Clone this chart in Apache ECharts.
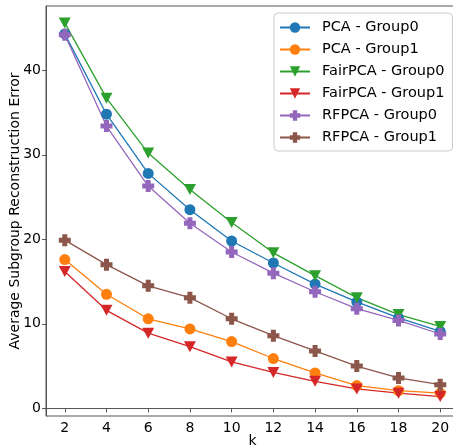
<!DOCTYPE html>
<html>
<head>
<meta charset="utf-8">
<script src="https://cdn.jsdelivr.net/npm/echarts@6/dist/echarts.min.js"></script>
<style>
  html, body { margin: 0; padding: 0; background: #fff; }
  #chart { width: 453px; height: 448px; }
</style>
</head>
<body>
<div id="chart"></div>
<script>
const kValues = [2, 4, 6, 8, 10, 12, 14, 16, 18, 20]
const yTicks = [0, 10, 20, 30, 40]

const pcaGroup0 = [44.3, 34.8, 27.8, 23.5, 19.8, 17.2, 14.7, 12.6, 10.7, 9.1]
const pcaGroup1 = [17.6, 13.5, 10.6, 9.4, 7.9, 5.9, 4.2, 2.7, 2.1, 1.8]
const fairGroup0 = [45.6, 36.7, 30.2, 25.9, 22.0, 18.4, 15.7, 13.1, 11.1, 9.7]
const fairGroup1 = [16.2, 11.6, 8.9, 7.3, 5.5, 4.25, 3.2, 2.3, 1.8, 1.4]
const rfGroup0 = [44.2, 33.4, 26.3, 21.9, 18.5, 16.0, 13.8, 11.8, 10.4, 8.8]
const rfGroup1 = [19.9, 17.0, 14.5, 13.1, 10.6, 8.6, 6.8, 5.0, 3.6, 2.8]

const downTri = 'path://M0,0L10,0L5,9Z'
const plus = 'path://M3.5,0H8.5V3.5H12V8.5H8.5V12H3.5V8.5H0V3.5H3.5Z'

function makeSeries(name, values, color, symbol, size) {
  return {
    name: name,
    type: 'line',
    data: kValues.map((k, i) => [k, values[i]]),
    symbol: symbol,
    symbolSize: size,
    showAllSymbol: true,
    lineStyle: { color: color, width: 1.3 },
    itemStyle: { color: color },
    emphasis: { disabled: true },
    animation: false
  }
}

const chart = echarts.init(document.getElementById('chart'))
const option = {
  backgroundColor: '#fff',
  textStyle: { fontFamily: 'DejaVu Sans' },
  grid: {
    left: 46, top: 6, width: 413, height: 410,
    outerBoundsMode: 'none', containLabel: false,
    show: true, borderColor: '#555', borderWidth: 1
  },
  legend: {
    orient: 'vertical',
    left: 274, top: 13,
    padding: [7, 8, 6, 5],
    itemWidth: 30, itemHeight: 13,
    itemGap: 7,
    backgroundColor: 'rgba(255,255,255,0.85)',
    borderColor: '#cccccc', borderWidth: 1, borderRadius: 4,
    textStyle: { fontSize: 14.5, color: '#000', padding: [0, 0, 0, 7] },
    data: ['PCA - Group0', 'PCA - Group1', 'FairPCA - Group0', 'FairPCA - Group1', 'RFPCA - Group0', 'RFPCA - Group1']
  },
  xAxis: {
    type: 'value', min: 1.1, max: 20.9,
    name: 'k', nameLocation: 'middle', nameGap: 18, nameMoveOverlap: false,
    nameTextStyle: { fontSize: 14, color: '#000' },
    axisLine: { lineStyle: { color: '#555', width: 1 } },
    axisTick: { show: true, length: 4, lineStyle: { color: '#555' }, customValues: kValues },
    axisLabel: { fontSize: 14, color: '#000', margin: 5, customValues: kValues },
    splitLine: { show: false }
  },
  yAxis: {
    type: 'value', min: -0.9, max: 47.6,
    name: 'Average Subgroup Reconstruction Error', nameLocation: 'middle', nameGap: 24, nameMoveOverlap: false,
    nameTextStyle: { fontSize: 14, color: '#000' },
    axisLine: { show: true, lineStyle: { color: '#555', width: 1 } },
    axisTick: { show: true, length: 4, lineStyle: { color: '#555' }, customValues: yTicks },
    axisLabel: { fontSize: 14, color: '#000', margin: 5, customValues: yTicks },
    splitLine: { show: false }
  },
  series: [
    makeSeries('PCA - Group0', pcaGroup0, '#1f77b4', 'circle', 11),
    makeSeries('PCA - Group1', pcaGroup1, '#ff7f0e', 'circle', 11),
    makeSeries('FairPCA - Group0', fairGroup0, '#2ca02c', downTri, [12, 11]),
    makeSeries('FairPCA - Group1', fairGroup1, '#d62728', downTri, [12, 11]),
    makeSeries('RFPCA - Group0', rfGroup0, '#9467bd', plus, 12),
    makeSeries('RFPCA - Group1', rfGroup1, '#8c564b', plus, 12)
  ]
}
chart.setOption(option)
</script>
</body>
</html>
